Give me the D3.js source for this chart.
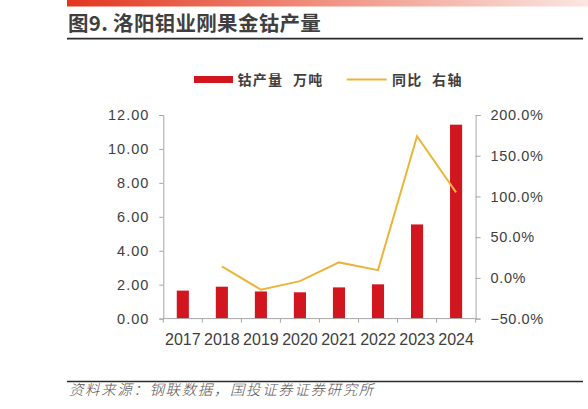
<!DOCTYPE html>
<html>
<head>
<meta charset="utf-8">
<script src="https://cdn.jsdelivr.net/npm/d3@7"></script>
<style>
  body { margin: 0; background: #fff; }
  svg { display: block; font-family: "Liberation Sans", Arial, sans-serif; }
  .cjk { font-family: "Noto Sans CJK SC", sans-serif; }
</style>
</head>
<body>
<div id="chart"></div>
<script>
"use strict";

// ---- data ----
var years = ["2017", "2018", "2019", "2020", "2021", "2022", "2023", "2024"];
var output = [1.65, 1.88, 1.60, 1.55, 1.84, 2.02, 5.55, 11.43];        // 钴产量 万吨
var yoy = [null, 14.0, -14.5, -4.0, 19.0, 9.5, 174.0, 105.0];          // 同比 %
var leftTicks = [0, 2, 4, 6, 8, 10, 12];
var rightTicks = [-50, 0, 50, 100, 150, 200];

var W = 588, H = 409;
var margin = { top: 115, right: 112.4, bottom: 90.4, left: 163.3 };
var width = W - margin.left - margin.right;
var height = H - margin.top - margin.bottom;

var svg = d3.select("#chart").append("svg")
    .attr("width", W)
    .attr("height", H);

// header gradient bar
var defs = svg.append("defs");
var grad = defs.append("linearGradient").attr("id", "hdr")
    .attr("x1", "0%").attr("x2", "100%").attr("y1", "0%").attr("y2", "0%");
grad.append("stop").attr("offset", "0%").attr("stop-color", "#E2361F");
grad.append("stop").attr("offset", "45%").attr("stop-color", "#EE8A78");
grad.append("stop").attr("offset", "100%").attr("stop-color", "#FBE6E2");

svg.append("rect")
    .attr("x", 67).attr("y", 0)
    .attr("width", W - 67).attr("height", 6.5)
    .attr("fill", "url(#hdr)");

svg.append("text")
    .attr("class", "cjk")
    .attr("x", 68).attr("y", 31)
    .attr("font-size", 20.5)
    .attr("font-weight", "bold")
    .attr("letter-spacing", 0.3)
    .attr("fill", "#3f3f3f")
    .text("图9. 洛阳钼业刚果金钴产量");

svg.append("line")
    .attr("x1", 67).attr("x2", 583)
    .attr("y1", 38.6).attr("y2", 38.6)
    .attr("stroke", "#2b2b2b").attr("stroke-width", 1.8);

// footer
svg.append("line")
    .attr("x1", 67).attr("x2", 583)
    .attr("y1", 381.4).attr("y2", 381.4)
    .attr("stroke", "#2b2b2b").attr("stroke-width", 1.5);

svg.append("text")
    .attr("class", "cjk")
    .attr("x", 69).attr("y", 395)
    .attr("font-size", 14.5)
    .attr("font-style", "italic")
    .attr("font-weight", 300)
    .attr("letter-spacing", 1.6)
    .attr("fill", "#555")
    .text("资料来源：钢联数据，国投证券证券研究所");

// ---- scales ----
var x = d3.scaleBand().domain(years).range([0, width])
    .paddingInner(0.69).paddingOuter(0.345);
var yL = d3.scaleLinear().domain([0, 12]).range([height, 0]);
var yR = d3.scaleLinear().domain([-50, 200]).range([height, 0]);

var g = svg.append("g")
    .attr("transform", "translate(" + margin.left + "," + margin.top + ")");

// bars
g.selectAll("rect.bar")
    .data(years)
    .enter().append("rect")
    .attr("class", "bar")
    .attr("x", function (d) { return x(d); })
    .attr("width", x.bandwidth())
    .attr("y", function (d, i) { return yL(output[i]); })
    .attr("height", function (d, i) { return height - yL(output[i]); })
    .attr("fill", "#D2161F");

// axes
var axisColor = "#a6a6a6";
var labelColor = "#404040";

var leftAxis = g.append("g")
    .call(d3.axisLeft(yL).tickValues(leftTicks).tickSize(4).tickPadding(10)
        .tickFormat(d3.format(".2f")));

var rightAxis = g.append("g")
    .attr("transform", "translate(" + width + ",0)")
    .call(d3.axisRight(yR).tickValues(rightTicks).tickSize(5).tickPadding(10)
        .tickFormat(function (d) { return d3.format(".1f")(d) + "%"; }));

var bottomAxis = g.append("g")
    .attr("transform", "translate(0," + height + ")")
    .call(d3.axisBottom(x).tickSize(0).tickPadding(15));

[leftAxis, rightAxis, bottomAxis].forEach(function (a) {
    a.select(".domain").attr("stroke", axisColor);
    a.selectAll(".tick line").attr("stroke", axisColor);
    a.selectAll("text").attr("fill", labelColor)
        .attr("font-family", "'Liberation Sans', Arial, sans-serif");
});
leftAxis.selectAll("text").attr("font-size", 14.5).attr("letter-spacing", 1);
rightAxis.selectAll("text").attr("font-size", 14.5).attr("letter-spacing", 0.6);
bottomAxis.selectAll("text").attr("font-size", 16);
bottomAxis.select(".domain").attr("d", "M0,0H" + width);

// category boundary ticks
var bounds = d3.range(years.length + 1).map(function (i) { return i * x.step(); });
bottomAxis.selectAll("line.sep")
    .data(bounds)
    .enter().append("line")
    .attr("class", "sep")
    .attr("x1", function (d) { return d; })
    .attr("x2", function (d) { return d; })
    .attr("y1", 0).attr("y2", 4)
    .attr("stroke", axisColor);

// yoy line
var lineData = years.map(function (y, i) { return [y, yoy[i]]; });
var line = d3.line()
    .defined(function (d) { return d[1] !== null; })
    .x(function (d) { return x(d[0]) + x.bandwidth() / 2; })
    .y(function (d) { return yR(d[1]); });

g.append("path")
    .datum(lineData)
    .attr("d", line)
    .attr("fill", "none")
    .attr("stroke", "#EBB53A")
    .attr("stroke-width", 2);

// legend
var legend = svg.append("g");
legend.append("rect")
    .attr("x", 194).attr("y", 76)
    .attr("width", 39).attr("height", 7)
    .attr("fill", "#D2161F");
legend.append("text")
    .attr("class", "cjk")
    .attr("x", 237.5).attr("y", 84.5)
    .attr("font-size", 14)
    .attr("font-weight", "bold")
    .attr("letter-spacing", 1.3)
    .attr("word-spacing", 5)
    .attr("fill", labelColor)
    .text("钴产量 万吨");
legend.append("line")
    .attr("x1", 346.7).attr("x2", 386.7)
    .attr("y1", 79.5).attr("y2", 79.5)
    .attr("stroke", "#EBB53A").attr("stroke-width", 2);
legend.append("text")
    .attr("class", "cjk")
    .attr("x", 392).attr("y", 84.5)
    .attr("font-size", 14)
    .attr("font-weight", "bold")
    .attr("letter-spacing", 1.3)
    .attr("word-spacing", 5)
    .attr("fill", labelColor)
    .text("同比 右轴");
</script>
</body>
</html>
